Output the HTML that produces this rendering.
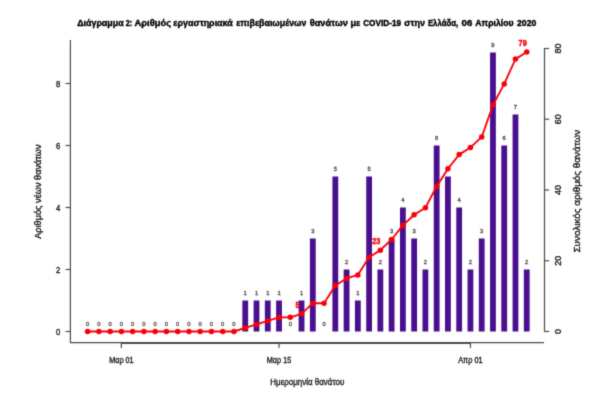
<!DOCTYPE html>
<html><head><meta charset="utf-8"><title>chart</title><style>html,body{margin:0;padding:0;background:#fff;}svg{display:block;}</style></head><body>
<svg width="600" height="400" viewBox="0 0 600 400" font-family="Liberation Sans, sans-serif">
<rect width="600" height="400" fill="#fff"/>
<defs><filter id="soft" x="0" y="0" width="600" height="400" filterUnits="userSpaceOnUse" color-interpolation-filters="sRGB"><feConvolveMatrix order="3" kernelMatrix="0.0196 0.1008 0.0196 0.1008 0.5184 0.1008 0.0196 0.1008 0.0196" edgeMode="duplicate" preserveAlpha="false"/></filter></defs>
<g filter="url(#soft)">
<text x="77.20" y="25.5" font-size="9.3" font-weight="bold" fill="#000" stroke="#000" stroke-width="0.4" textLength="46.40" lengthAdjust="spacingAndGlyphs">Διάγραμμα</text>
<text x="125.70" y="25.5" font-size="9.3" font-weight="bold" fill="#000" stroke="#000" stroke-width="0.4" textLength="6.50" lengthAdjust="spacingAndGlyphs">2:</text>
<text x="134.50" y="25.5" font-size="9.3" font-weight="bold" fill="#000" stroke="#000" stroke-width="0.4" textLength="36.60" lengthAdjust="spacingAndGlyphs">Αριθμός</text>
<text x="173.30" y="25.5" font-size="9.3" font-weight="bold" fill="#000" stroke="#000" stroke-width="0.4" textLength="59.50" lengthAdjust="spacingAndGlyphs">εργαστηριακά</text>
<text x="236.20" y="25.5" font-size="9.3" font-weight="bold" fill="#000" stroke="#000" stroke-width="0.4" textLength="70.20" lengthAdjust="spacingAndGlyphs">επιβεβαιωμένων</text>
<text x="309.70" y="25.5" font-size="9.3" font-weight="bold" fill="#000" stroke="#000" stroke-width="0.4" textLength="38.10" lengthAdjust="spacingAndGlyphs">θανάτων</text>
<text x="350.40" y="25.5" font-size="9.3" font-weight="bold" fill="#000" stroke="#000" stroke-width="0.4" textLength="9.90" lengthAdjust="spacingAndGlyphs">με</text>
<text x="363.20" y="25.5" font-size="9.3" font-weight="bold" fill="#000" stroke="#000" stroke-width="0.4" textLength="37.90" lengthAdjust="spacingAndGlyphs">COVID-19</text>
<text x="404.30" y="25.5" font-size="9.3" font-weight="bold" fill="#000" stroke="#000" stroke-width="0.4" textLength="20.60" lengthAdjust="spacingAndGlyphs">στην</text>
<text x="427.90" y="25.5" font-size="9.3" font-weight="bold" fill="#000" stroke="#000" stroke-width="0.4" textLength="30.30" lengthAdjust="spacingAndGlyphs">Ελλάδα,</text>
<text x="461.60" y="25.5" font-size="9.3" font-weight="bold" fill="#000" stroke="#000" stroke-width="0.4" textLength="10.70" lengthAdjust="spacingAndGlyphs">06</text>
<text x="475.20" y="25.5" font-size="9.3" font-weight="bold" fill="#000" stroke="#000" stroke-width="0.4" textLength="38.40" lengthAdjust="spacingAndGlyphs">Απριλίου</text>
<text x="517.00" y="25.5" font-size="9.3" font-weight="bold" fill="#000" stroke="#000" stroke-width="0.4" textLength="19.30" lengthAdjust="spacingAndGlyphs">2020</text>
<rect x="242.34" y="300.50" width="5.8" height="31.00" fill="#490F8E"/>
<rect x="253.60" y="300.50" width="5.8" height="31.00" fill="#490F8E"/>
<rect x="264.86" y="300.50" width="5.8" height="31.00" fill="#490F8E"/>
<rect x="276.12" y="300.50" width="5.8" height="31.00" fill="#490F8E"/>
<rect x="298.64" y="300.50" width="5.8" height="31.00" fill="#490F8E"/>
<rect x="309.90" y="238.50" width="5.8" height="93.00" fill="#490F8E"/>
<rect x="332.42" y="176.50" width="5.8" height="155.00" fill="#490F8E"/>
<rect x="343.68" y="269.50" width="5.8" height="62.00" fill="#490F8E"/>
<rect x="354.94" y="300.50" width="5.8" height="31.00" fill="#490F8E"/>
<rect x="366.20" y="176.50" width="5.8" height="155.00" fill="#490F8E"/>
<rect x="377.46" y="269.50" width="5.8" height="62.00" fill="#490F8E"/>
<rect x="388.72" y="238.50" width="5.8" height="93.00" fill="#490F8E"/>
<rect x="399.98" y="207.50" width="5.8" height="124.00" fill="#490F8E"/>
<rect x="411.24" y="238.50" width="5.8" height="93.00" fill="#490F8E"/>
<rect x="422.50" y="269.50" width="5.8" height="62.00" fill="#490F8E"/>
<rect x="433.76" y="145.50" width="5.8" height="186.00" fill="#490F8E"/>
<rect x="445.02" y="176.50" width="5.8" height="155.00" fill="#490F8E"/>
<rect x="456.28" y="207.50" width="5.8" height="124.00" fill="#490F8E"/>
<rect x="467.54" y="269.50" width="5.8" height="62.00" fill="#490F8E"/>
<rect x="478.80" y="238.50" width="5.8" height="93.00" fill="#490F8E"/>
<rect x="490.06" y="52.50" width="5.8" height="279.00" fill="#490F8E"/>
<rect x="501.32" y="145.50" width="5.8" height="186.00" fill="#490F8E"/>
<rect x="512.58" y="114.50" width="5.8" height="217.00" fill="#490F8E"/>
<rect x="523.84" y="269.50" width="5.8" height="62.00" fill="#490F8E"/>
<text x="87.60" y="325.70" font-size="5.8" text-anchor="middle" fill="#4a4a4a" stroke="#4a4a4a" stroke-width="0.3">0</text>
<text x="98.86" y="325.70" font-size="5.8" text-anchor="middle" fill="#4a4a4a" stroke="#4a4a4a" stroke-width="0.3">0</text>
<text x="110.12" y="325.70" font-size="5.8" text-anchor="middle" fill="#4a4a4a" stroke="#4a4a4a" stroke-width="0.3">0</text>
<text x="121.38" y="325.70" font-size="5.8" text-anchor="middle" fill="#4a4a4a" stroke="#4a4a4a" stroke-width="0.3">0</text>
<text x="132.64" y="325.70" font-size="5.8" text-anchor="middle" fill="#4a4a4a" stroke="#4a4a4a" stroke-width="0.3">0</text>
<text x="143.90" y="325.70" font-size="5.8" text-anchor="middle" fill="#4a4a4a" stroke="#4a4a4a" stroke-width="0.3">0</text>
<text x="155.16" y="325.70" font-size="5.8" text-anchor="middle" fill="#4a4a4a" stroke="#4a4a4a" stroke-width="0.3">0</text>
<text x="166.42" y="325.70" font-size="5.8" text-anchor="middle" fill="#4a4a4a" stroke="#4a4a4a" stroke-width="0.3">0</text>
<text x="177.68" y="325.70" font-size="5.8" text-anchor="middle" fill="#4a4a4a" stroke="#4a4a4a" stroke-width="0.3">0</text>
<text x="188.94" y="325.70" font-size="5.8" text-anchor="middle" fill="#4a4a4a" stroke="#4a4a4a" stroke-width="0.3">0</text>
<text x="200.20" y="325.70" font-size="5.8" text-anchor="middle" fill="#4a4a4a" stroke="#4a4a4a" stroke-width="0.3">0</text>
<text x="211.46" y="325.70" font-size="5.8" text-anchor="middle" fill="#4a4a4a" stroke="#4a4a4a" stroke-width="0.3">0</text>
<text x="222.72" y="325.70" font-size="5.8" text-anchor="middle" fill="#4a4a4a" stroke="#4a4a4a" stroke-width="0.3">0</text>
<text x="233.98" y="325.70" font-size="5.8" text-anchor="middle" fill="#4a4a4a" stroke="#4a4a4a" stroke-width="0.3">0</text>
<text x="245.24" y="294.70" font-size="5.8" text-anchor="middle" fill="#4a4a4a" stroke="#4a4a4a" stroke-width="0.3">1</text>
<text x="256.50" y="294.70" font-size="5.8" text-anchor="middle" fill="#4a4a4a" stroke="#4a4a4a" stroke-width="0.3">1</text>
<text x="267.76" y="294.70" font-size="5.8" text-anchor="middle" fill="#4a4a4a" stroke="#4a4a4a" stroke-width="0.3">1</text>
<text x="279.02" y="294.70" font-size="5.8" text-anchor="middle" fill="#4a4a4a" stroke="#4a4a4a" stroke-width="0.3">1</text>
<text x="290.28" y="325.70" font-size="5.8" text-anchor="middle" fill="#4a4a4a" stroke="#4a4a4a" stroke-width="0.3">0</text>
<text x="301.54" y="294.70" font-size="5.8" text-anchor="middle" fill="#4a4a4a" stroke="#4a4a4a" stroke-width="0.3">1</text>
<text x="312.80" y="232.70" font-size="5.8" text-anchor="middle" fill="#4a4a4a" stroke="#4a4a4a" stroke-width="0.3">3</text>
<text x="324.06" y="325.70" font-size="5.8" text-anchor="middle" fill="#4a4a4a" stroke="#4a4a4a" stroke-width="0.3">0</text>
<text x="335.32" y="170.70" font-size="5.8" text-anchor="middle" fill="#4a4a4a" stroke="#4a4a4a" stroke-width="0.3">5</text>
<text x="346.58" y="263.70" font-size="5.8" text-anchor="middle" fill="#4a4a4a" stroke="#4a4a4a" stroke-width="0.3">2</text>
<text x="357.84" y="294.70" font-size="5.8" text-anchor="middle" fill="#4a4a4a" stroke="#4a4a4a" stroke-width="0.3">1</text>
<text x="369.10" y="170.70" font-size="5.8" text-anchor="middle" fill="#4a4a4a" stroke="#4a4a4a" stroke-width="0.3">5</text>
<text x="380.36" y="263.70" font-size="5.8" text-anchor="middle" fill="#4a4a4a" stroke="#4a4a4a" stroke-width="0.3">2</text>
<text x="391.62" y="232.70" font-size="5.8" text-anchor="middle" fill="#4a4a4a" stroke="#4a4a4a" stroke-width="0.3">3</text>
<text x="402.88" y="201.70" font-size="5.8" text-anchor="middle" fill="#4a4a4a" stroke="#4a4a4a" stroke-width="0.3">4</text>
<text x="414.14" y="232.70" font-size="5.8" text-anchor="middle" fill="#4a4a4a" stroke="#4a4a4a" stroke-width="0.3">3</text>
<text x="425.40" y="263.70" font-size="5.8" text-anchor="middle" fill="#4a4a4a" stroke="#4a4a4a" stroke-width="0.3">2</text>
<text x="436.66" y="139.70" font-size="5.8" text-anchor="middle" fill="#4a4a4a" stroke="#4a4a4a" stroke-width="0.3">6</text>
<text x="447.92" y="170.70" font-size="5.8" text-anchor="middle" fill="#4a4a4a" stroke="#4a4a4a" stroke-width="0.3">5</text>
<text x="459.18" y="201.70" font-size="5.8" text-anchor="middle" fill="#4a4a4a" stroke="#4a4a4a" stroke-width="0.3">4</text>
<text x="470.44" y="263.70" font-size="5.8" text-anchor="middle" fill="#4a4a4a" stroke="#4a4a4a" stroke-width="0.3">2</text>
<text x="481.70" y="232.70" font-size="5.8" text-anchor="middle" fill="#4a4a4a" stroke="#4a4a4a" stroke-width="0.3">3</text>
<text x="492.96" y="46.70" font-size="5.8" text-anchor="middle" fill="#4a4a4a" stroke="#4a4a4a" stroke-width="0.3">9</text>
<text x="504.22" y="139.70" font-size="5.8" text-anchor="middle" fill="#4a4a4a" stroke="#4a4a4a" stroke-width="0.3">6</text>
<text x="515.48" y="108.70" font-size="5.8" text-anchor="middle" fill="#4a4a4a" stroke="#4a4a4a" stroke-width="0.3">7</text>
<text x="526.74" y="263.70" font-size="5.8" text-anchor="middle" fill="#4a4a4a" stroke="#4a4a4a" stroke-width="0.3">2</text>
<g stroke="#4c4c4c" stroke-width="1.2" fill="none">
<path d="M70.4 40 V342.6 H544"/>
<path d="M65.5 331.50 H70.4"/>
<path d="M65.5 269.50 H70.4"/>
<path d="M65.5 207.50 H70.4"/>
<path d="M65.5 145.50 H70.4"/>
<path d="M65.5 83.50 H70.4"/>
<path d="M121.38 342.7 V348"/>
<path d="M279.02 342.7 V348"/>
<path d="M470.44 342.7 V348"/>
<path d="M121.38 343.3 H470.44"/>
<path d="M544.5 48.00 V332.00"/>
<path d="M544.5 331.50 H549.2"/>
<path d="M544.5 260.75 H549.2"/>
<path d="M544.5 190.00 H549.2"/>
<path d="M544.5 119.25 H549.2"/>
<path d="M544.5 48.50 H549.2"/>
</g>
<text x="58.2" y="334.60" font-size="9.2" stroke="#202020" stroke-width="0.38" text-anchor="middle" fill="#202020" transform="translate(58.2 0) scale(0.84 1) translate(-58.2 0)">0</text>
<text x="58.2" y="272.60" font-size="9.2" stroke="#202020" stroke-width="0.38" text-anchor="middle" fill="#202020" transform="translate(58.2 0) scale(0.84 1) translate(-58.2 0)">2</text>
<text x="58.2" y="210.60" font-size="9.2" stroke="#202020" stroke-width="0.38" text-anchor="middle" fill="#202020" transform="translate(58.2 0) scale(0.84 1) translate(-58.2 0)">4</text>
<text x="58.2" y="148.60" font-size="9.2" stroke="#202020" stroke-width="0.38" text-anchor="middle" fill="#202020" transform="translate(58.2 0) scale(0.84 1) translate(-58.2 0)">6</text>
<text x="58.2" y="86.60" font-size="9.2" stroke="#202020" stroke-width="0.38" text-anchor="middle" fill="#202020" transform="translate(58.2 0) scale(0.84 1) translate(-58.2 0)">8</text>
<text x="121.38" y="363" font-size="9.2" stroke="#202020" stroke-width="0.38" text-anchor="middle" fill="#202020" textLength="24.5" lengthAdjust="spacingAndGlyphs">Μαρ 01</text>
<text x="279.02" y="363" font-size="9.2" stroke="#202020" stroke-width="0.38" text-anchor="middle" fill="#202020" textLength="24.5" lengthAdjust="spacingAndGlyphs">Μαρ 15</text>
<text x="470.44" y="363" font-size="9.2" stroke="#202020" stroke-width="0.38" text-anchor="middle" fill="#202020" textLength="24.5" lengthAdjust="spacingAndGlyphs">Απρ 01</text>
<text transform="translate(560.5 331.50) rotate(-90)" font-size="9.2" stroke="#202020" stroke-width="0.38" text-anchor="middle" fill="#202020" textLength="5.0" lengthAdjust="spacingAndGlyphs">0</text>
<text transform="translate(560.5 260.75) rotate(-90)" font-size="9.2" stroke="#202020" stroke-width="0.38" text-anchor="middle" fill="#202020" textLength="10.0" lengthAdjust="spacingAndGlyphs">20</text>
<text transform="translate(560.5 190.00) rotate(-90)" font-size="9.2" stroke="#202020" stroke-width="0.38" text-anchor="middle" fill="#202020" textLength="10.0" lengthAdjust="spacingAndGlyphs">40</text>
<text transform="translate(560.5 119.25) rotate(-90)" font-size="9.2" stroke="#202020" stroke-width="0.38" text-anchor="middle" fill="#202020" textLength="10.0" lengthAdjust="spacingAndGlyphs">60</text>
<text transform="translate(560.5 48.50) rotate(-90)" font-size="9.2" stroke="#202020" stroke-width="0.38" text-anchor="middle" fill="#202020" textLength="10.0" lengthAdjust="spacingAndGlyphs">80</text>
<text x="307.3" y="385" font-size="9.3" stroke="#202020" stroke-width="0.38" text-anchor="middle" fill="#202020" textLength="74" lengthAdjust="spacingAndGlyphs">Ημερομηνία θανάτου</text>
<text transform="translate(40.6 191.6) rotate(-90)" font-size="9.3" stroke="#202020" stroke-width="0.38" text-anchor="middle" fill="#202020" textLength="94.5" lengthAdjust="spacingAndGlyphs">Αριθμός νέων θανάτων</text>
<text transform="translate(579.8 191.2) rotate(-90)" font-size="9.3" stroke="#202020" stroke-width="0.38" text-anchor="middle" fill="#202020" textLength="122.6" lengthAdjust="spacingAndGlyphs">Συνολικός αριθμός θανάτων</text>
<polyline points="87.60,331.50 98.86,331.50 110.12,331.50 121.38,331.50 132.64,331.50 143.90,331.50 155.16,331.50 166.42,331.50 177.68,331.50 188.94,331.50 200.20,331.50 211.46,331.50 222.72,331.50 233.98,331.50 245.24,327.96 256.50,324.43 267.76,320.89 279.02,317.35 290.28,317.35 301.54,313.81 312.80,303.20 324.06,303.20 335.32,285.51 346.58,278.44 357.84,274.90 369.10,257.21 380.36,250.14 391.62,239.52 402.88,225.38 414.14,214.76 425.40,207.69 436.66,186.46 447.92,168.78 459.18,154.62 470.44,147.55 481.70,136.94 492.96,105.10 504.22,83.88 515.48,59.11 526.74,52.04" fill="none" stroke="#F80008" stroke-width="1.85" stroke-linejoin="round"/>
<circle cx="87.60" cy="331.50" r="2.75" fill="#F80008"/>
<circle cx="98.86" cy="331.50" r="2.75" fill="#F80008"/>
<circle cx="110.12" cy="331.50" r="2.75" fill="#F80008"/>
<circle cx="121.38" cy="331.50" r="2.75" fill="#F80008"/>
<circle cx="132.64" cy="331.50" r="2.75" fill="#F80008"/>
<circle cx="143.90" cy="331.50" r="2.75" fill="#F80008"/>
<circle cx="155.16" cy="331.50" r="2.75" fill="#F80008"/>
<circle cx="166.42" cy="331.50" r="2.75" fill="#F80008"/>
<circle cx="177.68" cy="331.50" r="2.75" fill="#F80008"/>
<circle cx="188.94" cy="331.50" r="2.75" fill="#F80008"/>
<circle cx="200.20" cy="331.50" r="2.75" fill="#F80008"/>
<circle cx="211.46" cy="331.50" r="2.75" fill="#F80008"/>
<circle cx="222.72" cy="331.50" r="2.75" fill="#F80008"/>
<circle cx="233.98" cy="331.50" r="2.75" fill="#F80008"/>
<circle cx="245.24" cy="327.96" r="2.75" fill="#F80008"/>
<circle cx="256.50" cy="324.43" r="2.75" fill="#F80008"/>
<circle cx="267.76" cy="320.89" r="2.75" fill="#F80008"/>
<circle cx="279.02" cy="317.35" r="2.75" fill="#F80008"/>
<circle cx="290.28" cy="317.35" r="2.75" fill="#F80008"/>
<circle cx="301.54" cy="313.81" r="2.75" fill="#F80008"/>
<circle cx="312.80" cy="303.20" r="2.75" fill="#F80008"/>
<circle cx="324.06" cy="303.20" r="2.75" fill="#F80008"/>
<circle cx="335.32" cy="285.51" r="2.75" fill="#F80008"/>
<circle cx="346.58" cy="278.44" r="2.75" fill="#F80008"/>
<circle cx="357.84" cy="274.90" r="2.75" fill="#F80008"/>
<circle cx="369.10" cy="257.21" r="2.75" fill="#F80008"/>
<circle cx="380.36" cy="250.14" r="2.75" fill="#F80008"/>
<circle cx="391.62" cy="239.52" r="2.75" fill="#F80008"/>
<circle cx="402.88" cy="225.38" r="2.75" fill="#F80008"/>
<circle cx="414.14" cy="214.76" r="2.75" fill="#F80008"/>
<circle cx="425.40" cy="207.69" r="2.75" fill="#F80008"/>
<circle cx="436.66" cy="186.46" r="2.75" fill="#F80008"/>
<circle cx="447.92" cy="168.78" r="2.75" fill="#F80008"/>
<circle cx="459.18" cy="154.62" r="2.75" fill="#F80008"/>
<circle cx="470.44" cy="147.55" r="2.75" fill="#F80008"/>
<circle cx="481.70" cy="136.94" r="2.75" fill="#F80008"/>
<circle cx="492.96" cy="105.10" r="2.75" fill="#F80008"/>
<circle cx="504.22" cy="83.88" r="2.75" fill="#F80008"/>
<circle cx="515.48" cy="59.11" r="2.75" fill="#F80008"/>
<circle cx="526.74" cy="52.04" r="2.75" fill="#F80008"/>
<text x="297.44" y="307.71" font-size="8.6" font-weight="bold" text-anchor="middle" fill="#F80008" stroke="#F80008" stroke-width="0.4" textLength="4.1" lengthAdjust="spacingAndGlyphs">5</text>
<text x="376.26" y="244.04" font-size="8.6" font-weight="bold" text-anchor="middle" fill="#F80008" stroke="#F80008" stroke-width="0.4" textLength="8.2" lengthAdjust="spacingAndGlyphs">23</text>
<text x="522.64" y="45.94" font-size="8.6" font-weight="bold" text-anchor="middle" fill="#F80008" stroke="#F80008" stroke-width="0.4" textLength="8.2" lengthAdjust="spacingAndGlyphs">79</text>
</g>
</svg>
</body></html>
